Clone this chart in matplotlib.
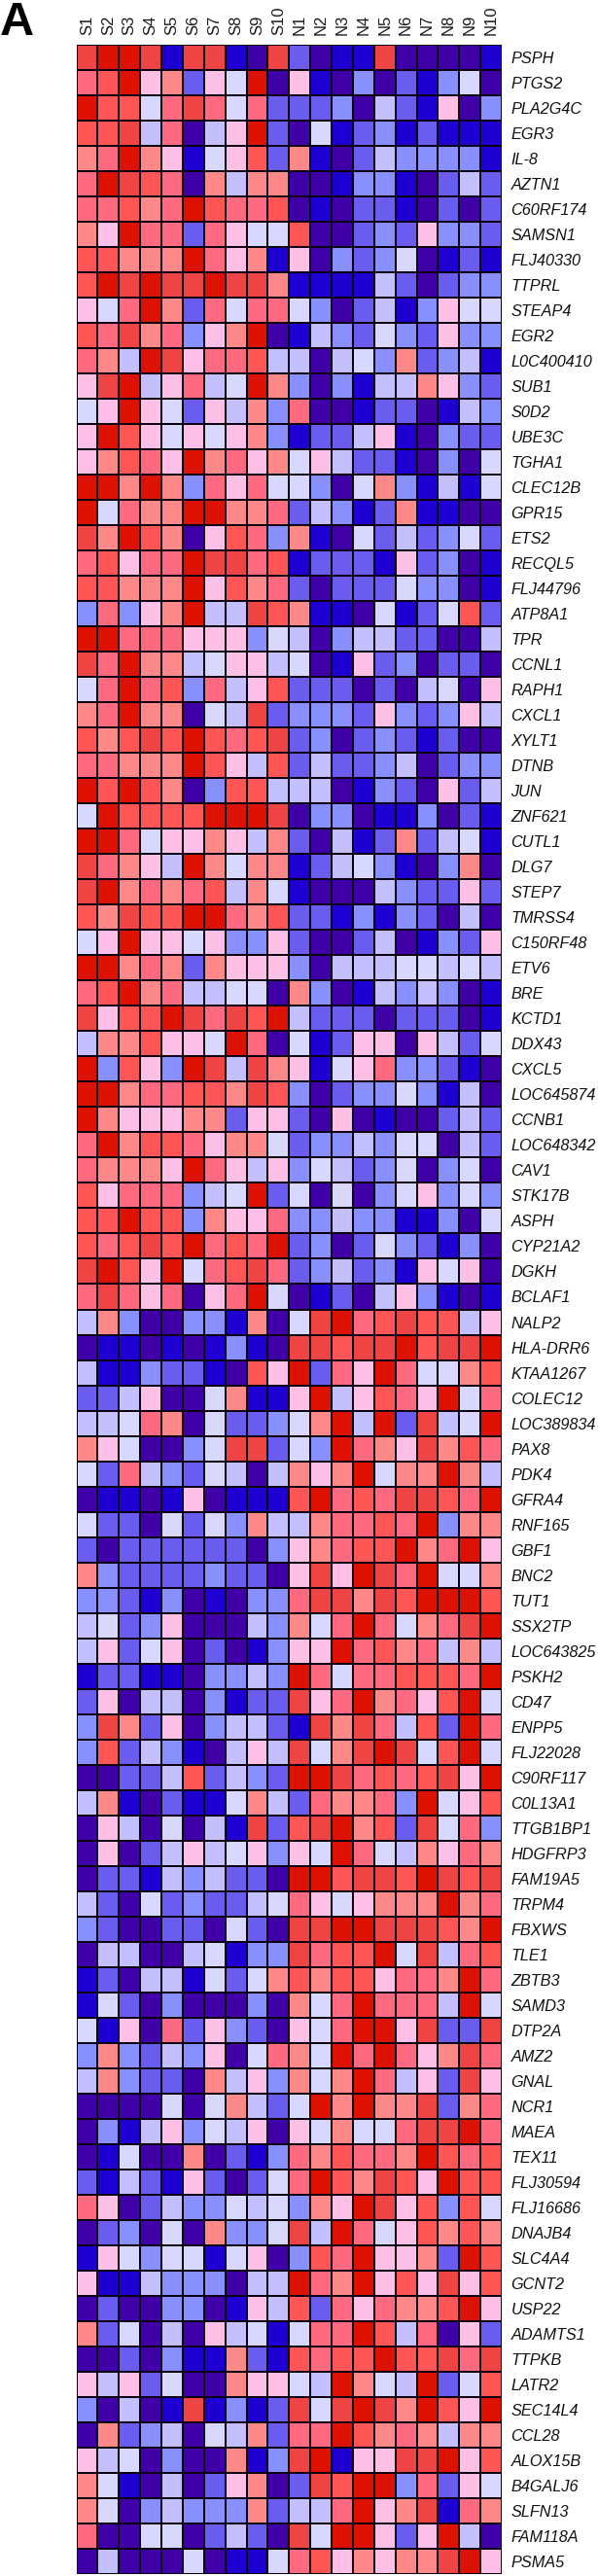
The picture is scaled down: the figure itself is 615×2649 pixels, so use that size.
import matplotlib
matplotlib.use('Agg')
import matplotlib.pyplot as plt
import numpy as np
from matplotlib.colors import ListedColormap, BoundaryNorm

plt.rcParams['font.family'] = ['Liberation Sans', 'DejaVu Sans']

samples = ['S1','S2','S3','S4','S5','S6','S7','S8','S9','S10',
           'N1','N2','N3','N4','N5','N6','N7','N8','N9','N10']

genes = ['PSPH','PTGS2','PLA2G4C','EGR3','IL-8','AZTN1','C60RF174','SAMSN1','FLJ40330','TTPRL',
         'STEAP4','EGR2','L0C400410','SUB1','S0D2','UBE3C','TGHA1','CLEC12B','GPR15','ETS2',
         'RECQL5','FLJ44796','ATP8A1','TPR','CCNL1','RAPH1','CXCL1','XYLT1','DTNB','JUN',
         'ZNF621','CUTL1','DLG7','STEP7','TMRSS4','C150RF48','ETV6','BRE','KCTD1','DDX43',
         'CXCL5','LOC645874','CCNB1','LOC648342','CAV1','STK17B','ASPH','CYP21A2','DGKH','BCLAF1',
         'NALP2','HLA-DRR6','KTAA1267','COLEC12','LOC389834','PAX8','PDK4','GFRA4','RNF165','GBF1',
         'BNC2','TUT1','SSX2TP','LOC643825','PSKH2','CD47','ENPP5','FLJ22028','C90RF117','C0L13A1',
         'TTGB1BP1','HDGFRP3','FAM19A5','TRPM4','FBXWS','TLE1','ZBTB3','SAMD3','DTP2A','AMZ2',
         'GNAL','NCR1','MAEA','TEX11','FLJ30594','FLJ16686','DNAJB4','SLC4A4','GCNT2','USP22',
         'ADAMTS1','TTPKB','LATR2','SEC14L4','CCL28','ALOX15B','B4GALJ6','SLFN13','FAM118A','PSMA5']

# one letter per cell, from lowest level to highest
levels = 'bpmlvwkfredx'
level_colors = ['#1E00D2','#3F00A8','#6A5CEE','#8890FF','#C4C0FF','#D8D8FF',
                '#FFC0E8','#FF8888','#FF6A80','#FF5555','#EE4444','#DD1100']

rows = [
'dxxdbddbpdmpbbdppppb','rexkfmkwxpkbplpmblwp','xeewrdrwrmmmlpvmbkpl','eedvrpvkxmpwbmlbmbbb','frxfkbwkemfbpmvllllb',
'rxderpfvffppbllbpmvm','rrefrxerrepbpmmbpmpm','fkxrrmrkwweppmlmkllm','eefffxrkfbkplmlwpbmb','exdxddxddfbbbbvmpmll',
'kwrxfmrwrrwlpmvblkww','erdfrlkfxpbvlmwlmkll','rfvxdkrrevvpvwlfmlvb','kdxvkrvwxflplbvvfklm','wkxkwmkvflrppbmmpbvl',
'kxekwkwkflbmmvkbplmm','kferkxfrkfwkvmmbplpw','xxfxflrkrwwlpwflbvbw','xwrffxxffrmvlbmfbbpp','dfxefpkerlfbpwmvmlwm',
'rekrrxddrebmmmbkmlpb','eefffxkefrmpmmmwllpb','lrlkfxvvdefbbpwbmwem','xxrrrkkklwvplvvmmppv','drxffvwkkvwpbkmlpmmp',
'wrxrelrvkemmmpmpvwpk','frxffpwvdmlllmklmlkv','efedexeredmlpmlmbmpp','rrfffxekvemvmmlvpmll','xexefpleevvvpblmpkmv',
'wxeeeexxxdpllpbblpmb','xxrwkkfkvfmpvbmfmvwb','drfkvxfwffbmvwlbplfp','dxfrfrevfwbpppvlmmkm','efdeexxrfemmblblmpvp',
'wkxkkwkllkmppmvpblmk','xxfrfmfkkklpvvvwwvwv','rexfrvvwwpflpbvlvlpb','dkeexdrdexvmmmpmmmpb','vffekkwxrpwbmkkpkvmw',
'xleklxdvdfkbwkrllmbp','xxfrreefdelpmllwlbvp','xfkkkffmkkmpkpbppmvm','rxfeerkffwmllvlwwpvm','rfffkxrkvklwvmlwplwp',
'ekrrrlvwxmwpwplwklwl','eexeelfkkrllvllbblpw','eredexrerxmlpmwlmblp','dxekxwredrmlvmlbkwkp','rdrkrpkrxwpbmpvklbpb',
'vflppllbfpwdxredeevk','pbbpbpblbpddeddxeddx','vbblmmbpekxmrkxrwwfe','mmvkppwfbbkxvkerkxwr','vvwrfpwmmlwfxvxmdvwx',
'fkwpplwddmwlxrfkdfer','wmrvlmwvpvfkfxwffxfv','pbbpbkpbbbexrerdderx','wmmpwmwlfvvfrrerxlff','mpmmmmmmplkfreexfrxk',
'flmmmmlmmpkdkxdrxwwf','llmblpbpllrddfdexxxe','vwmlkpppvlfwrxrwfrdx','vkmwkpmpblkkxrefrvfv','bmmbbpllvlxrwrreeerx',
'mkpvvplbmmdkrxfrkexw','ldfmkplvvmbdfdrvemxr','lemvlbpvkvdwfdxdwexw','ppmmvemvlmxxdreredkx','vfbpmbbwfvmrffrlxwke',
'pkvpwpvbdmedxfemdwrl','pkpmvkvwklkwxrwvfkrf','pmmbvlvmmpxxeddexded','vmpwmlmmvwrkwkfffxfr','lmppmmpwmpddxxdddefx',
'pvvppvwblldreexwdvre','bmpvvbwmwfefeekrrfxr','bwmplppplpfwrxrrrvxw','wbkprmklmpkwrxxkdmmd','lflmvlkpwrfwxrxrkfdr',
'vflmmpfvklfwfxrvkmdk','ppppwpwfvmwxfxffdmfr','plbvklwvkpkwfwwrddxr','pbwppfpmblrferrfxere','mbvmbkmpmwrxefdekxee',
'rkpmvllwvwlfkxdkelew','pmlpwpfllwdvxrwkefef','bkwlwwbwkplerxkkfmxe','kbbvlllpvvxrfxkekdke','pmppllpbkvemrkrffexk',
'fmwpvpkvwbwrrxevrpkm','ppmplbbfmbereexeedrd','kvkmwppfkkwvxfwvxmwe','lpvpbdblbmdwdxdfxekx','pfmlvpwvfmrrxefrfvff',
'kvwplppfbldxbkkddxke','fwbpvpmkfpmdexxlrmkw','fwplvlllfmvvrxkfdbrf','rppwwpmvmpdwxxkmkxvp','pvpppwpbbwrekfkffdxk',
]

#turn the letters into level numbers
data = np.array([[levels.index(c) for c in r] for r in rows])

W, H = 615, 2649
fig = plt.figure(figsize=(W/100, H/100), dpi=100)
ax = fig.add_axes([78.5/W, 1-2647/H, 437.5/W, 2601/H])

cmap = ListedColormap(level_colors)
norm = BoundaryNorm(np.arange(len(levels)+1)-0.5, cmap.N)
ax.pcolormesh(data, cmap=cmap, norm=norm, edgecolors='#0a0010', linewidth=1.3)
ax.invert_yaxis()

ax.set_xticks(np.arange(len(samples))+0.5)
ax.set_xticklabels(samples, rotation=90, fontsize=12, color='#1a1a1a')
ax.xaxis.tick_top()
ax.set_yticks(np.arange(len(genes))+0.5)
ax.set_yticklabels(genes, style='italic', fontsize=11.7, color='#111111')
ax.yaxis.tick_right()
ax.tick_params(length=0, pad=6.8, axis='y')
ax.tick_params(length=0, pad=7.5, axis='x')
for s in ax.spines.values():
    s.set_visible(False)

fig.text(0, 1-36/H, 'A', fontsize=35, fontweight='bold', color='black', ha='left', va='baseline')

fig.savefig('out.png', dpi=100)
